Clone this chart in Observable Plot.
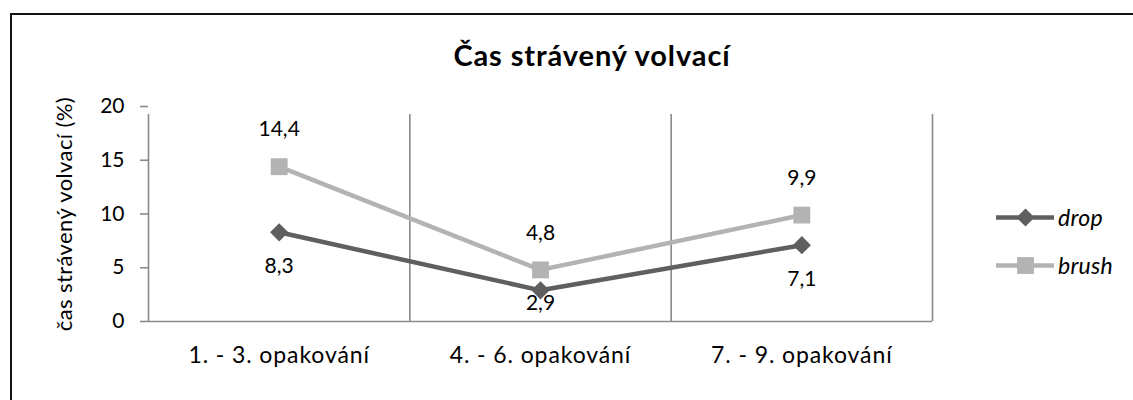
<!DOCTYPE html>
<html>
<head>
<meta charset="utf-8">
<script src="https://cdn.jsdelivr.net/npm/d3@7"></script>
<script src="https://cdn.jsdelivr.net/npm/@observablehq/plot@0.6"></script>
<style>
  html, body { margin: 0; padding: 0; background: #fff; }
  #wrap { position: relative; width: 1133px; height: 400px; overflow: hidden; font-family: Lato, "Open Sans", sans-serif; }
  #frame { position: absolute; left: 10px; top: 13px; width: 1200px; height: 500px; border-left: 2px solid #111; border-top: 2px solid #111; box-sizing: border-box; }
  #title { position: absolute; left: 0; top: 37px; width: 1184px; text-align: center; font-weight: bold; font-size: 29px; letter-spacing: 0.9px; color: #000; }
  #chart { position: absolute; left: 0; top: 0; }
  #legend { position: absolute; left: 996px; top: 193px; font-size: 23px; font-style: italic; color: #000; letter-spacing: 0.3px; }
  .row { display: flex; align-items: center; height: 48px; }
  .row svg { margin-right: 4px; }
  g[aria-label="x-axis tick label"] text { font-size: 23px; letter-spacing: 0.9px; }
  g[aria-label="y-axis label"] text { font-size: 22px; letter-spacing: 0.4px; }
</style>
</head>
<body>
<div id="wrap">
  <div id="frame"></div>
  <div id="chart"></div>
  <div id="title">Čas strávený volvací</div>
  <div id="legend"></div>
</div>
<script>
const categories = ["1. - 3. opakování", "4. - 6. opakování", "7. - 9. opakování"];
const drop = [8.3, 2.9, 7.1];
const brush = [14.4, 4.8, 9.9];
const yTicks = [0, 5, 10, 15, 20];
const seriesNames = ["drop", "brush"];
const seriesColors = ["#5f5f5f", "#b3b3b3"];

const fmt = v => String(v).replace(".", ",");
const rows = (vals, name) => vals.map((v, i) => ({i, cat: categories[i], v, name}));
const dropData = rows(drop, "drop");
const brushData = rows(brush, "brush");
const boundaries = categories.map((c, i) => i + 0.5);
const gridColor = "#8a8a8a";

const chart = Plot.plot({
  width: 1133,
  height: 400,
  marginLeft: 148,
  marginRight: 201,
  marginTop: 106,
  marginBottom: 79,
  style: {fontFamily: "Lato, 'Open Sans', sans-serif", fontSize: "21px", color: "#000", background: "transparent"},
  x: {domain: [-0.5, categories.length - 0.5]},
  y: {domain: [0, 20]},
  marks: [
    Plot.ruleX([-0.5, ...boundaries], {y1: 0, y2: 20, stroke: gridColor, strokeWidth: 1.6, insetBottom: -8}),
    Plot.ruleY([0], {stroke: gridColor, strokeWidth: 1.6}),
    Plot.axisY({ticks: yTicks, tickSize: 8, tickPadding: 16, stroke: gridColor, strokeWidth: 1.6,
      label: "čas strávený volvací (%)", labelAnchor: "center", labelArrow: "none", labelOffset: 92, fill: "#000"}),
    Plot.axisX({ticks: categories.map((c, i) => i), tickFormat: i => categories[i], tickSize: 0, tickPadding: 25, label: null, fill: "#000"}),
    Plot.line(brushData, {x: "i", y: "v", stroke: seriesColors[1], strokeWidth: 4.5}),
    Plot.line(dropData, {x: "i", y: "v", stroke: seriesColors[0], strokeWidth: 4.5}),
    Plot.dot(brushData, {x: "i", y: "v", symbol: "square", r: 9.5, fill: seriesColors[1], stroke: null}),
    Plot.dot(dropData, {x: "i", y: "v", symbol: "diamond2", r: 8.2, fill: seriesColors[0], stroke: null}),
    Plot.text(brushData, {x: "i", y: "v", text: d => fmt(d.v), dy: -37, fill: "#000"}),
    Plot.text(dropData, {x: "i", y: d => Math.max(d.v - 3.15, 1.65), text: d => fmt(d.v), fill: "#000"})
  ]
});
document.getElementById("chart").appendChild(chart);

// legend
const legend = document.getElementById("legend");
const symbols = ["diamond2", "square"];
const sizes = [8.2, 9.5];
seriesNames.forEach((name, k) => {
  const row = document.createElement("div");
  row.className = "row";
  const sw = Plot.plot({
    width: 58, height: 24, margin: 0,
    x: {domain: [0, 1], axis: null}, y: {domain: [0, 1], axis: null},
    marks: [
      Plot.ruleY([0.5], {x1: 0, x2: 1, stroke: seriesColors[k], strokeWidth: 4.5}),
      Plot.dot([0.5], {x: d => d, y: 0.5, symbol: symbols[k], r: sizes[k], fill: seriesColors[k], stroke: null})
    ]
  });
  row.appendChild(sw);
  const t = document.createElement("span");
  t.textContent = name;
  row.appendChild(t);
  legend.appendChild(row);
});
</script>
</body>
</html>
